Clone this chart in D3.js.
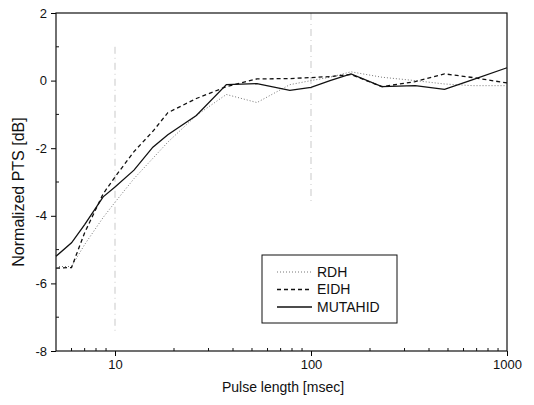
<!DOCTYPE html>
<html>
<head>
<meta charset="utf-8">
<script src="https://cdn.jsdelivr.net/npm/d3@7"></script>
<style>
  body { margin: 0; background: #fff; }
  svg { display: block; font-family: "Liberation Sans", Arial, sans-serif; }
</style>
</head>
<body>
<div id="chart"></div>
<script>
// pulse lengths [msec] shared by all three curves
const pulseLength = [5, 6, 7, 8.7, 10, 12.5, 15.6, 18.6, 26, 37, 53, 78, 100, 125, 160, 230, 340, 480, 670, 1000];
const rdh = [-5.5, -5.5, -4.85, -4.05, -3.6, -2.9, -2.3, -1.82, -1.03, -0.41, -0.65, -0.12, 0.0, 0.1, 0.26, 0.1, 0.0, -0.1, -0.15, -0.15];
const eidh = [-5.55, -5.53, -4.5, -3.35, -2.85, -2.1, -1.5, -0.95, -0.53, -0.18, 0.05, 0.06, 0.09, 0.12, 0.18, -0.18, -0.03, 0.2, 0.09, -0.07];
const mutahid = [-5.2, -4.8, -4.26, -3.44, -3.15, -2.65, -1.97, -1.6, -1.03, -0.12, -0.09, -0.29, -0.2, 0.0, 0.2, -0.18, -0.15, -0.26, 0.03, 0.38];
const seriesNames = ["RDH", "EIDH", "MUTAHID"];
const yTicks = [2, 0, -2, -4, -6, -8];
const xTicks = [10, 100, 1000];

const width = 534;
const height = 405;
const margin = { top: 13, right: 27, bottom: 54, left: 56 };

const styles = {
  RDH: { stroke: "#777", width: 1, dash: "1,2" },
  EIDH: { stroke: "#111", width: 1.3, dash: "4,3" },
  MUTAHID: { stroke: "#111", width: 1.3, dash: null },
};

const series = [rdh, eidh, mutahid].map((vals, i) => ({
  name: seriesNames[i],
  values: vals.map((v, j) => ({ x: pulseLength[j], y: v })),
}));

const x = d3.scaleLog().domain([5, 1000]).range([margin.left, width - margin.right]);
const y = d3.scaleLinear().domain([-8, 2]).range([height - margin.bottom, margin.top]);

const svg = d3.select("#chart").append("svg")
  .attr("width", width)
  .attr("height", height);

// faint dash-dot grid lines at the decades
svg.append("g")
  .selectAll("line")
  .data([{ v: 10, y1: 1, y2: -7.4 }, { v: 100, y1: 2, y2: -3.6 }])
  .join("line")
  .attr("x1", (d) => x(d.v))
  .attr("x2", (d) => x(d.v))
  .attr("y1", (d) => y(d.y1))
  .attr("y2", (d) => y(d.y2))
  .attr("stroke", "#bbb")
  .attr("stroke-width", 0.8)
  .attr("stroke-dasharray", "7,4,1,4");

// minor ticks point inward
const xMinor = d3.range(6, 10).concat(d3.range(20, 100, 10), d3.range(200, 1000, 100));
const yMinor = d3.range(-7, 2, 2);

const gx = svg.append("g").attr("transform", `translate(0,${height - margin.bottom})`);
gx.call(d3.axisBottom(x).tickValues(xTicks).tickFormat(d3.format("d")).tickSize(5).tickPadding(4))
  .call((g) => g.select(".domain").remove())
  .call((g) => g.selectAll("text").attr("font-size", 13).attr("font-family", null).attr("fill", "#111"));
gx.selectAll(".minor")
  .data(xMinor)
  .join("line")
  .attr("class", "minor")
  .attr("x1", (d) => x(d))
  .attr("x2", (d) => x(d))
  .attr("y1", 0)
  .attr("y2", -3)
  .attr("stroke", "#111");

const gy = svg.append("g").attr("transform", `translate(${margin.left},0)`);
gy.call(d3.axisLeft(y).tickValues(yTicks).tickFormat((d) => String(d)).tickSize(5).tickPadding(4))
  .call((g) => g.select(".domain").remove())
  .call((g) => g.selectAll("text").attr("font-size", 13).attr("font-family", null).attr("fill", "#111"));
gy.selectAll(".minor")
  .data(yMinor)
  .join("line")
  .attr("class", "minor")
  .attr("x1", 0)
  .attr("x2", 3)
  .attr("y1", (d) => y(d))
  .attr("y2", (d) => y(d))
  .attr("stroke", "#111");

// frame
svg.append("rect")
  .attr("x", margin.left)
  .attr("y", margin.top)
  .attr("width", width - margin.left - margin.right)
  .attr("height", height - margin.top - margin.bottom)
  .attr("fill", "none")
  .attr("stroke", "#111")
  .attr("stroke-width", 1.2);

const line = d3.line()
  .x((d) => x(d.x))
  .y((d) => y(d.y));

svg.append("g")
  .selectAll("path")
  .data(series)
  .join("path")
  .attr("d", (d) => line(d.values))
  .attr("fill", "none")
  .attr("stroke", (d) => styles[d.name].stroke)
  .attr("stroke-width", (d) => styles[d.name].width)
  .attr("stroke-dasharray", (d) => styles[d.name].dash);

// legend
const legend = svg.append("g").attr("transform", "translate(262,255)");
legend.append("rect")
  .attr("width", 135)
  .attr("height", 68)
  .attr("fill", "#fff")
  .attr("stroke", "#111")
  .attr("stroke-width", 1);
const item = legend.selectAll(".item")
  .data(seriesNames)
  .join("g")
  .attr("class", "item")
  .attr("transform", (d, i) => `translate(0,${17 + i * 17.5})`);
item.append("line")
  .attr("x1", 15)
  .attr("x2", 50)
  .attr("stroke", (d) => styles[d].stroke)
  .attr("stroke-width", (d) => styles[d].width)
  .attr("stroke-dasharray", (d) => styles[d].dash);
item.append("text")
  .attr("x", 55)
  .attr("dy", "0.35em")
  .attr("font-size", 14)
  .attr("fill", "#111")
  .text((d) => d);

// axis titles
svg.append("text")
  .attr("x", 283)
  .attr("y", 392)
  .attr("text-anchor", "middle")
  .attr("font-size", 14)
  .attr("fill", "#111")
  .text("Pulse length [msec]");

svg.append("text")
  .attr("transform", "translate(24,192) rotate(-90)")
  .attr("text-anchor", "middle")
  .attr("font-size", 16)
  .attr("fill", "#111")
  .text("Normalized PTS [dB]");
</script>
</body>
</html>
